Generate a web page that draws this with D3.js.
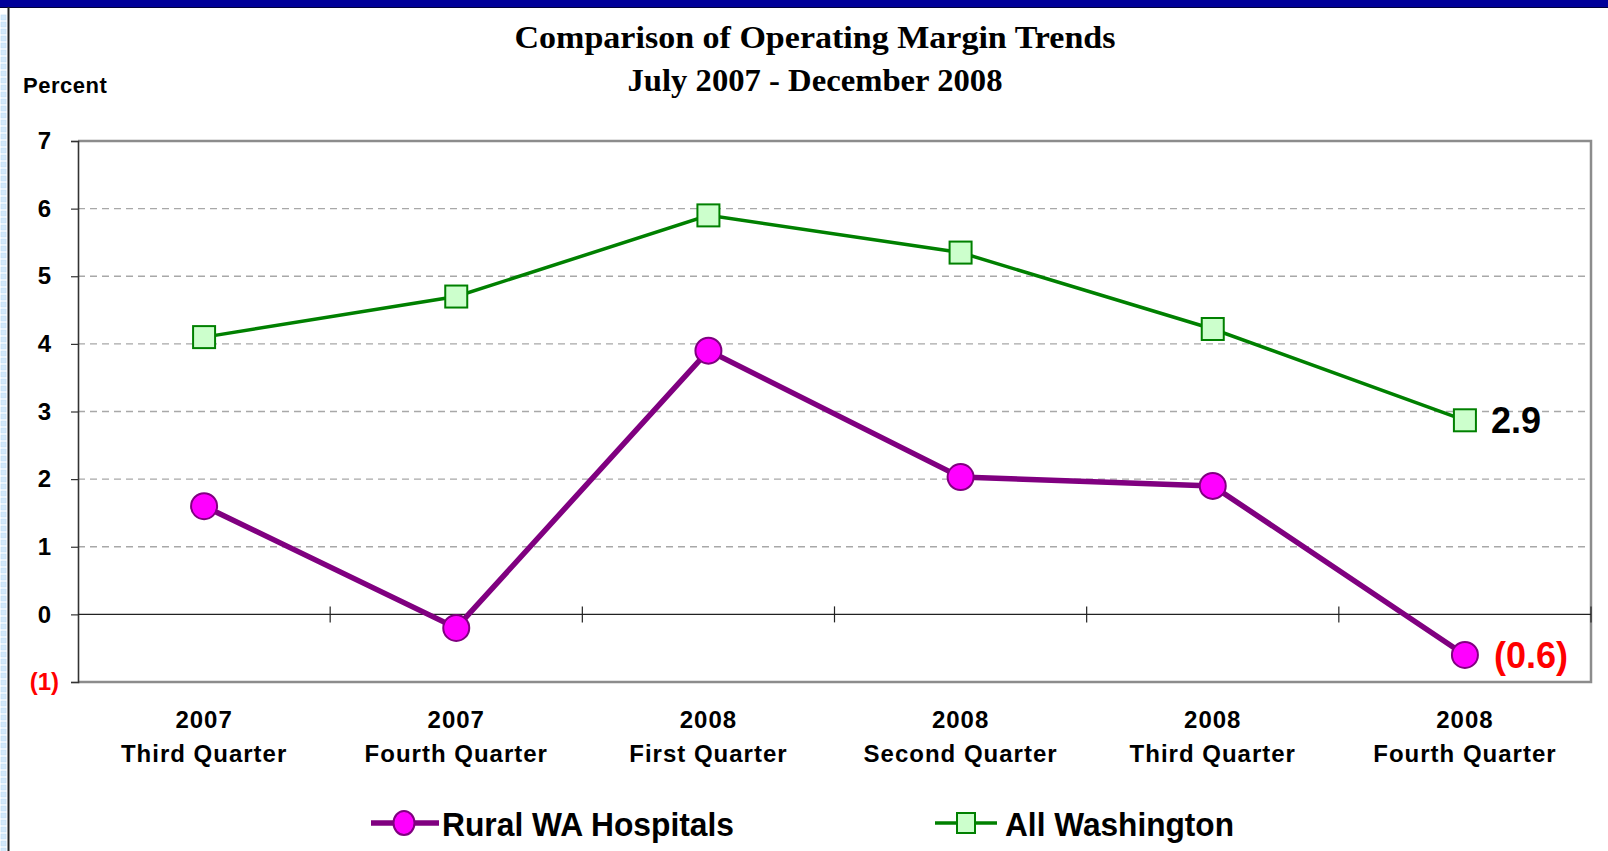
<!DOCTYPE html>
<html>
<head>
<meta charset="utf-8">
<script src="https://cdn.jsdelivr.net/npm/d3@7"></script>
<style>
  body { margin: 0; background: #fff; }
  svg { display: block; }
  .tick-label { font-family: "Liberation Sans", Arial, sans-serif; font-weight: bold; }
</style>
</head>
<body>
<div id="chart"></div>
<script>
// Data
const categories = ["2007|Third Quarter", "2007|Fourth Quarter", "2008|First Quarter",
                    "2008|Second Quarter", "2008|Third Quarter", "2008|Fourth Quarter"];
const ruralWA = [1.6, -0.2, 3.9, 2.03, 1.9, -0.6];
const allWashington = [4.1, 4.7, 5.9, 5.35, 4.22, 2.87];
const yTicks = [-1, 0, 1, 2, 3, 4, 5, 6, 7];
const titleLines = ["Comparison of Operating Margin Trends", "July 2007 - December 2008"];

const W = 1608, H = 851;
const plot = { left: 78, right: 1591, top: 141, bottom: 682 };

const svg = d3.select("#chart")
    .append("svg")
    .attr("width", W)
    .attr("height", H);

// frame decoration (slide border)
const defs = svg.append("defs");
const pat = defs.append("pattern")
    .attr("id", "grid")
    .attr("width", 7).attr("height", 7)
    .attr("patternUnits", "userSpaceOnUse");
pat.append("rect").attr("width", 7).attr("height", 7).attr("fill", "#fff");
pat.append("rect").attr("x", 1).attr("y", 1).attr("width", 5).attr("height", 5)
    .attr("fill", "#d4e9fa").attr("stroke", "#bcdcf5").attr("stroke-width", 0.6);

svg.append("rect").attr("x", 0).attr("y", 14).attr("width", 7).attr("height", H - 14)
    .attr("fill", "url(#grid)");
svg.append("rect").attr("x", 0).attr("y", 0).attr("width", W).attr("height", 7).attr("fill", "#000099");
svg.append("line").attr("x1", 0).attr("x2", W).attr("y1", 7.5).attr("y2", 7.5)
    .attr("stroke", "#00003a").attr("stroke-width", 1);
svg.append("line").attr("x1", 8.5).attr("x2", 8.5).attr("y1", 7).attr("y2", H)
    .attr("stroke", "#222").attr("stroke-width", 2);

// Scales
const xScale = d3.scaleBand().domain(categories).range([plot.left, plot.right]).padding(0);
const yScale = d3.scaleLinear().domain([-1, 7]).range([plot.bottom, plot.top]);
const cx = c => xScale(c) + xScale.bandwidth() / 2;

// Title
titleLines.forEach((t, i) => {
    svg.append("text")
        .attr("x", 815)
        .attr("y", 48 + i * 43)
        .attr("text-anchor", "middle")
        .attr("font-family", "'Liberation Serif', 'Times New Roman', serif")
        .attr("font-weight", "bold")
        .attr("font-size", 32)
        .attr("textLength", i === 0 ? 601 : 375)
        .attr("lengthAdjust", "spacingAndGlyphs")
        .text(t);
});

svg.append("text")
    .attr("class", "tick-label")
    .attr("x", 23).attr("y", 93)
    .attr("font-size", 22)
    .attr("letter-spacing", 0.5)
    .text("Percent");

// Gridlines
svg.append("g")
    .selectAll("line")
    .data(yTicks.filter(d => d > 0 && d < 7))
    .join("line")
    .attr("x1", plot.left).attr("x2", plot.right)
    .attr("y1", d => yScale(d)).attr("y2", d => yScale(d))
    .attr("stroke", "#a8a8a8")
    .attr("stroke-width", 1.3)
    .attr("stroke-dasharray", "7,5");

// Plot border (top, right, bottom)
svg.append("path")
    .attr("d", `M${plot.left},${plot.top}H${plot.right}V${plot.bottom}H${plot.left}`)
    .attr("fill", "none")
    .attr("stroke", "#8c8c8c")
    .attr("stroke-width", 2.5);

// Y axis
const yAxis = d3.axisLeft(yScale)
    .tickValues(yTicks)
    .tickSize(7)
    .tickPadding(12)
    .tickFormat(d => d < 0 ? `(${Math.abs(d)})` : d);

const yg = svg.append("g")
    .attr("transform", `translate(${plot.left},0)`)
    .call(yAxis);
yg.select(".domain").attr("stroke", "#333").attr("stroke-width", 1.6);
yg.selectAll(".tick line").attr("stroke", "#333").attr("stroke-width", 1.2);
yg.selectAll(".tick text")
    .attr("class", "tick-label")
    .attr("font-size", 24)
    .attr("fill", d => d < 0 ? "#ff0000" : "#000")
    .attr("dx", d => d < 0 ? 0 : -8);

// Zero line with category separators
const y0 = yScale(0);
svg.append("line")
    .attr("x1", plot.left).attr("x2", plot.right)
    .attr("y1", y0).attr("y2", y0)
    .attr("stroke", "#222").attr("stroke-width", 1.2);
svg.append("g")
    .selectAll("line")
    .data(categories.slice(1).map(c => xScale(c)).concat([plot.right]))
    .join("line")
    .attr("x1", d => d).attr("x2", d => d)
    .attr("y1", y0 - 8).attr("y2", y0 + 8)
    .attr("stroke", "#222").attr("stroke-width", 1.2);

// Category labels
const catLabels = svg.append("g")
    .selectAll("text")
    .data(categories)
    .join("text")
    .attr("class", "tick-label")
    .attr("font-size", 24)
    .attr("letter-spacing", 1)
    .attr("text-anchor", "middle");
catLabels.each(function(c) {
    const parts = c.split("|");
    const t = d3.select(this);
    t.append("tspan").attr("x", cx(c)).attr("y", 728).text(parts[0]);
    t.append("tspan").attr("x", cx(c)).attr("y", 762).text(parts[1]);
});

// Lines
const line = d3.line()
    .x((d, i) => cx(categories[i]))
    .y(d => yScale(d));

svg.append("path")
    .datum(allWashington)
    .attr("d", line)
    .attr("fill", "none")
    .attr("stroke", "#008000")
    .attr("stroke-width", 3.5);

svg.append("path")
    .datum(ruralWA)
    .attr("d", line)
    .attr("fill", "none")
    .attr("stroke", "#800080")
    .attr("stroke-width", 5.5);

// Markers
const sq = 22;
svg.append("g")
    .selectAll("rect")
    .data(allWashington)
    .join("rect")
    .attr("x", (d, i) => cx(categories[i]) - sq / 2)
    .attr("y", d => yScale(d) - sq / 2)
    .attr("width", sq).attr("height", sq)
    .attr("fill", "#ccffcc")
    .attr("stroke", "#008000")
    .attr("stroke-width", 2);

svg.append("g")
    .selectAll("circle")
    .data(ruralWA)
    .join("circle")
    .attr("cx", (d, i) => cx(categories[i]))
    .attr("cy", d => yScale(d))
    .attr("r", 13)
    .attr("fill", "#ff00ff")
    .attr("stroke", "#800080")
    .attr("stroke-width", 2);

// End-point labels
const last = categories.length - 1;
const fmt = d => d < 0 ? `(${d3.format(".1f")(-d)})` : d3.format(".1f")(d);

svg.append("text")
    .attr("class", "tick-label")
    .attr("x", cx(categories[last]) + 26)
    .attr("y", yScale(allWashington[last]) + 13)
    .attr("font-size", 36)
    .attr("fill", "#000")
    .text(fmt(allWashington[last]));

svg.append("text")
    .attr("class", "tick-label")
    .attr("x", cx(categories[last]) + 29)
    .attr("y", yScale(ruralWA[last]) + 13)
    .attr("font-size", 36)
    .attr("fill", "#ff0000")
    .text(fmt(ruralWA[last]));

// Legend
const legendY = 823;
const leg = svg.append("g");
leg.append("line").attr("x1", 371).attr("x2", 439).attr("y1", legendY).attr("y2", legendY)
    .attr("stroke", "#800080").attr("stroke-width", 5.5);
leg.append("ellipse").attr("cx", 404).attr("cy", legendY).attr("rx", 10.5).attr("ry", 12)
    .attr("fill", "#ff00ff").attr("stroke", "#800080").attr("stroke-width", 2);
leg.append("text").attr("class", "tick-label")
    .attr("x", 442).attr("y", 836).attr("font-size", 33)
    .attr("textLength", 292).attr("lengthAdjust", "spacingAndGlyphs")
    .text("Rural WA Hospitals");

leg.append("line").attr("x1", 935).attr("x2", 997).attr("y1", legendY).attr("y2", legendY)
    .attr("stroke", "#008000").attr("stroke-width", 3.5);
leg.append("rect").attr("x", 957).attr("y", legendY - 10).attr("width", 18).attr("height", 20)
    .attr("fill", "#ccffcc").attr("stroke", "#008000").attr("stroke-width", 2);
leg.append("text").attr("class", "tick-label")
    .attr("x", 1005).attr("y", 836).attr("font-size", 33)
    .attr("textLength", 229).attr("lengthAdjust", "spacingAndGlyphs")
    .text("All Washington");
</script>
</body>
</html>
